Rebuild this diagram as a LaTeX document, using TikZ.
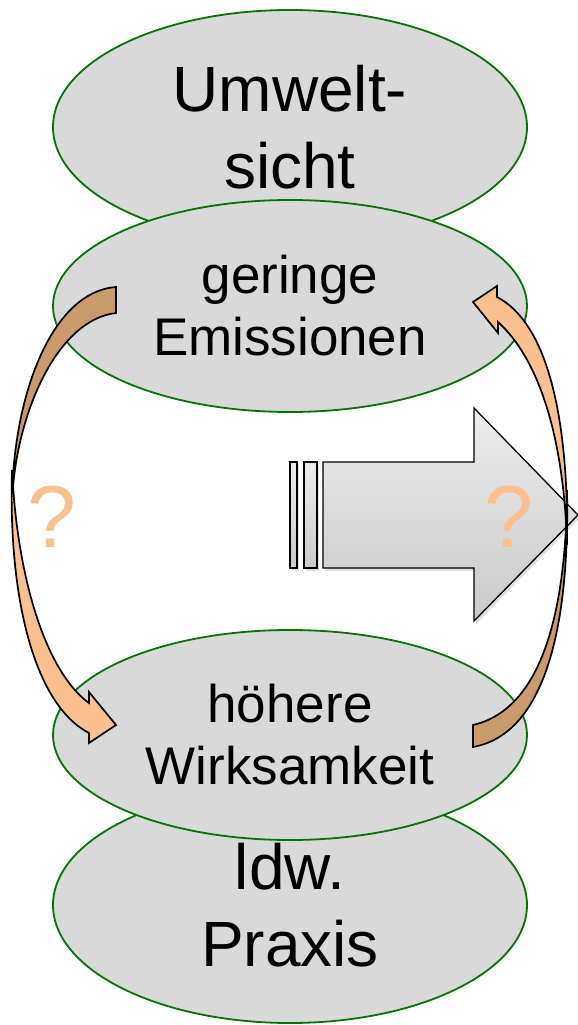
\documentclass[tikz,border=0pt]{standalone}
\usepackage{fontspec}
\setmainfont{Liberation Sans}
\usetikzlibrary{shapes.geometric}
\definecolor{ellfill}{HTML}{D9D9D9}
\definecolor{ellline}{HTML}{0A700A}
\definecolor{arrdark}{HTML}{C99A6B}
\definecolor{lorange}{HTML}{FAC090}
\begin{document}
\begin{tikzpicture}[x=1pt,y=-1pt,
  bubble/.style={ellipse, draw=ellline, line width=1.8pt, fill=ellfill, minimum width=474pt, inner sep=0pt, align=center, text=black},
  bigtxt/.style={font=\fontsize{64}{77}\selectfont},
  smalltxt/.style={font=\fontsize{53}{62}\selectfont},
  curvearrow/.style={draw=black, line width=1.7pt, line join=miter},
  bigarrow/.style={top color=gray!15, bottom color=gray!42, draw=black, line width=1.3pt, line join=miter},
  arrowshadow/.style={fill=black, opacity=0.12},
  qmark/.style={text=lorange, font=\fontsize{88}{100}\selectfont, inner sep=0pt, anchor=base}
]
\useasboundingbox (0,0) rectangle (578,1025);

% ellipses
\node[bubble, bigtxt, minimum height=234pt] (umwelt) at (290,127) {Umwelt-\\sicht};
\node[bubble, smalltxt, minimum height=212pt] (gering) at (290,306) {geringe\\Emissionen};
\node[bubble, bigtxt, minimum height=236pt] (praxis) at (290,905) {ldw.\\Praxis};
\node[bubble, smalltxt, minimum height=210pt] (hoeher) at (290,735) {höhere\\Wirksamkeit};

% big striped arrow (shadow)
\begin{scope}[shift={(2,3)}]
\fill[arrowshadow] (323,462) -- (474,462) -- (474,408) -- (578,515) -- (474,621) -- (474,568) -- (323,568) -- cycle;
\fill[arrowshadow] (290,462) rectangle (297,568);
\fill[arrowshadow] (304,462) rectangle (317,568);
\end{scope}
\shade[bigarrow] (323,462) -- (474,462) -- (474,408) -- (578,515) -- (474,621) -- (474,568) -- (323,568) -- cycle;
\shade[bigarrow] (290,462) rectangle (297,568);
\shade[bigarrow] (304,462) rectangle (317,568);

% left curved arrow (down)
\filldraw[curvearrow, fill=arrdark] (116,287) .. controls (50,292) and (12,400) .. (12,505)
   .. controls (14,420) and (55,320) .. (116,313) -- cycle;
\filldraw[curvearrow, fill=lorange] (12,470) .. controls (8,600) and (35,705) .. (89,733)
   -- (89,743) -- (116,725) -- (89,692) -- (89,703)
   .. controls (50,675) and (18,590) .. (12,470) -- cycle;

% right curved arrow (up)
\filldraw[curvearrow, fill=arrdark] (473,725) .. controls (530,712) and (566,640) .. (567,490)
   .. controls (570,640) and (540,735) .. (473,747) -- cycle;
\filldraw[curvearrow, fill=lorange] (498,322) -- (498,333) -- (473,302) -- (497,286) -- (497,297)
   .. controls (545,322) and (569,410) .. (567,545)
   .. controls (564,440) and (540,360) .. (498,322) -- cycle;

% question marks
\node[qmark] (qleft) at (52,547) {?};
\node[qmark] (qright) at (509,547) {?};
\end{tikzpicture}
\end{document}
